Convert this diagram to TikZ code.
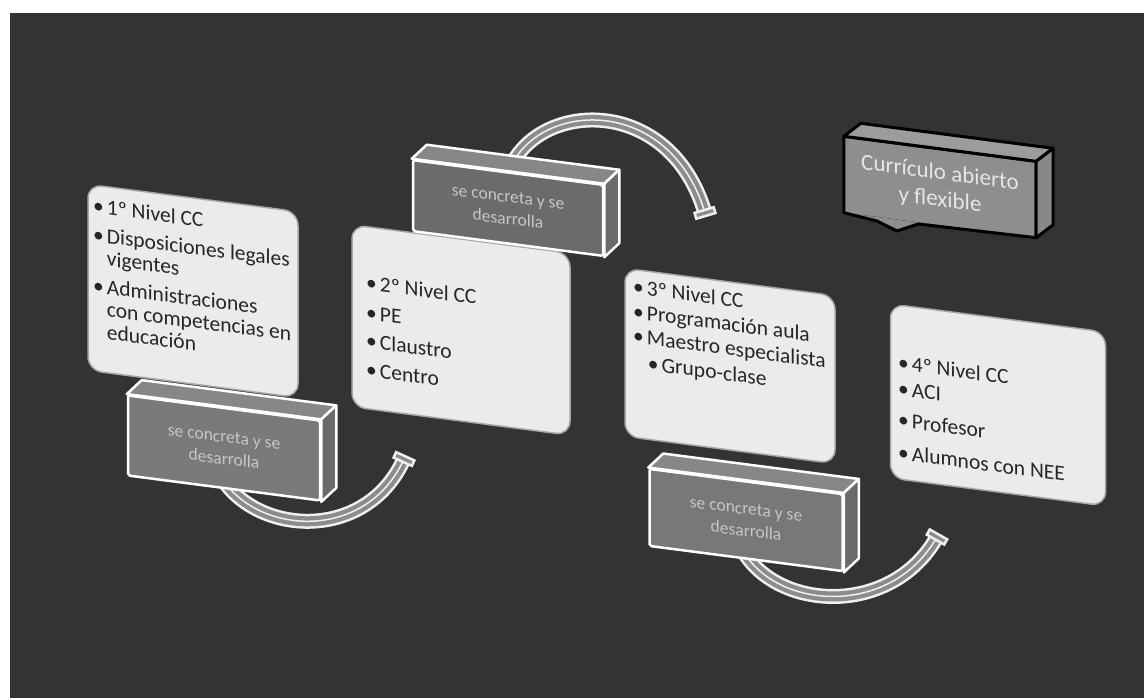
\documentclass[tikz,border=0pt]{standalone}
\usepackage{fontspec}
\setmainfont{Carlito}
\usetikzlibrary{calc,backgrounds}

\definecolor{bgdark}{HTML}{333333}
\definecolor{boxfill}{HTML}{EBEBEB}
\definecolor{boxrim}{HTML}{A6A6A6}
\definecolor{tubegray}{HTML}{8C8C8C}
\definecolor{tubewhite}{HTML}{F0F0F0}
\definecolor{blocktext}{HTML}{C6C6C6}
\definecolor{cubetop}{HTML}{878787}
\definecolor{cubeside}{HTML}{6A6A6A}
\definecolor{curfront}{HTML}{8E8E8E}
\definecolor{curtop}{HTML}{9C9C9C}
\definecolor{curside}{HTML}{888888}

\tikzset{
  slanted/.style={yslant=-0.13},
  levelbox/.style={slanted, fill=boxfill, draw=boxrim, line width=1.5pt, rounded corners=14pt},
  leveltext/.style={slanted, anchor=north west, inner sep=0pt, align=left, text=black!85,
    font=\fontsize{21.5}{22.5}\selectfont},
  cubefront/.style={slanted, draw=white, line width=2.5pt, line join=round, rounded corners=2pt,
    text=blocktext, align=center, inner sep=0pt, font=\fontsize{17.5}{22}\selectfont},
  cubeedge/.style={draw=white, line width=2.5pt, line join=round},
  curedge/.style={draw=black, line width=3pt, line join=round},
  tube/.style={draw=tubewhite, line width=15pt,
    postaction={draw=tubegray, line width=10pt},
    postaction={draw=tubewhite, line width=1.5pt}},
  tipcap/.style={sloped, fill=tubegray, draw=tubewhite, line width=2.5pt,
    minimum width=6pt, minimum height=20pt, inner sep=0pt},
}

\begin{document}
\begin{tikzpicture}[x=1pt,y=-1pt]
  \useasboundingbox (0,0) rectangle (1144,698);

  % level boxes
  \node[levelbox, minimum width=210pt, minimum height=186pt] (nivel1) at (193,291) {};
  \node[levelbox, minimum width=218pt, minimum height=182pt] (nivel2) at (461,330) {};
  \node[levelbox, minimum width=210pt, minimum height=168pt] (nivel3) at (730,366) {};
  \node[levelbox, minimum width=215pt, minimum height=174pt] (nivel4) at (998,405) {};

  \node[leveltext] (texto1) at (93,197) {\begin{tabular}{@{}l@{\hspace{3pt}}l@{}}
    \textbullet & 1º Nivel CC\\[6pt]
    \textbullet & Disposiciones legales\\
                & vigentes\\[6pt]
    \textbullet & Administraciones\\
                & con competencias en\\
                & educación
  \end{tabular}};
  \node[leveltext] (texto2) at (366,274) {\begin{tabular}{@{}l@{\hspace{3pt}}l@{}}
    \textbullet & 2º Nivel CC\\[7pt]
    \textbullet & PE\\[6pt]
    \textbullet & Claustro\\[6pt]
    \textbullet & Centro
  \end{tabular}};
  \node[leveltext] (texto3) at (633,278) {\begin{tabular}{@{}l@{\hspace{3pt}}l@{}}
    \textbullet & 3º Nivel CC\\[2pt]
    \textbullet & Programación aula\\[2pt]
    \textbullet & Maestro especialista\\[3pt]
                & \hspace{1pt}\textbullet\hspace{3pt}Grupo-clase
  \end{tabular}};
  \node[leveltext] (texto4) at (898,354) {\begin{tabular}{@{}l@{\hspace{3pt}}l@{}}
    \textbullet & 4º Nivel CC\\[3pt]
    \textbullet & ACI\\[9pt]
    \textbullet & Profesor\\[10pt]
    \textbullet & Alumnos con NEE
  \end{tabular}};

  % blocks "se concreta y se desarrolla"
  \node[cubefront, fill=black!52, minimum width=192pt, minimum height=80pt] (concreta1) at (224,448)
    {se concreta y se\\desarrolla};
  \node[cubefront, fill=black!58, minimum width=190pt, minimum height=71pt] (concreta2) at (508,208)
    {se concreta y se\\desarrolla};
  \node[cubefront, fill=black!53, minimum width=193pt, minimum height=77pt] (concreta3) at (746,520)
    {se concreta y se\\desarrolla};
  \foreach \b in {concreta1,concreta2,concreta3}{
    \draw[cubeedge, fill=cubetop] (\b.north west) -- ([shift={(15,-14)}]\b.north west)
      -- ([shift={(15,-14)}]\b.north east) -- (\b.north east) -- cycle;
    \draw[cubeedge, fill=cubeside] (\b.north east) -- ([shift={(15,-14)}]\b.north east)
      -- ([shift={(15,-14)}]\b.south east) -- (\b.south east) -- cycle;
  }

  % title block
  \node[slanted, fill=curfront, text=white!90!black, align=center, inner sep=0pt,
    minimum width=192pt, minimum height=76pt, font=\fontsize{23}{27}\selectfont] (curriculo) at (940,187)
    {Currículo abierto\\y flexible};
  \fill[curfront] (curriculo.south west) -- (877,221) -- (897,231) -- (918,224) -- (curriculo.south east) -- cycle;
  \draw[curedge] (curriculo.south west) -- (877,221) -- (897,231) -- (918,224) -- (curriculo.south east)
    -- (curriculo.north east) -- (curriculo.north west) -- cycle;
  \draw[curedge, fill=curtop] (curriculo.north west) -- ([shift={(17,-13)}]curriculo.north west)
    -- ([shift={(17,-13)}]curriculo.north east) -- (curriculo.north east) -- cycle;
  \draw[curedge, fill=curside] (curriculo.north east) -- ([shift={(17,-13)}]curriculo.north east)
    -- ([shift={(17,-13)}]curriculo.south east) -- (curriculo.south east) -- cycle;

  % background and arrows
  \begin{scope}[on background layer]
    \fill[white] (0,0) rectangle (1144,698);
    \fill[bgdark] (10,13) rectangle (1144,698);
    \coordinate (tip1) at (404,459);
    \coordinate (tip2) at (705,213);
    \coordinate (tip3) at (937,537);
    \draw[tube] ([shift={(-6,-18)}]concreta1.south) .. controls (250,535) and (365,545) .. (tip1)
      node[tipcap, pos=1] (cap1) {};
    \draw[tube] ([shift={(2,-3)}]concreta2.north) .. controls (540,100) and (670,95) .. (tip2)
      node[tipcap, pos=1] (cap2) {};
    \draw[tube] ([shift={(-6,-15)}]concreta3.south) .. controls (770,610) and (890,620) .. (tip3)
      node[tipcap, pos=1] (cap3) {};
  \end{scope}
\end{tikzpicture}
\end{document}
